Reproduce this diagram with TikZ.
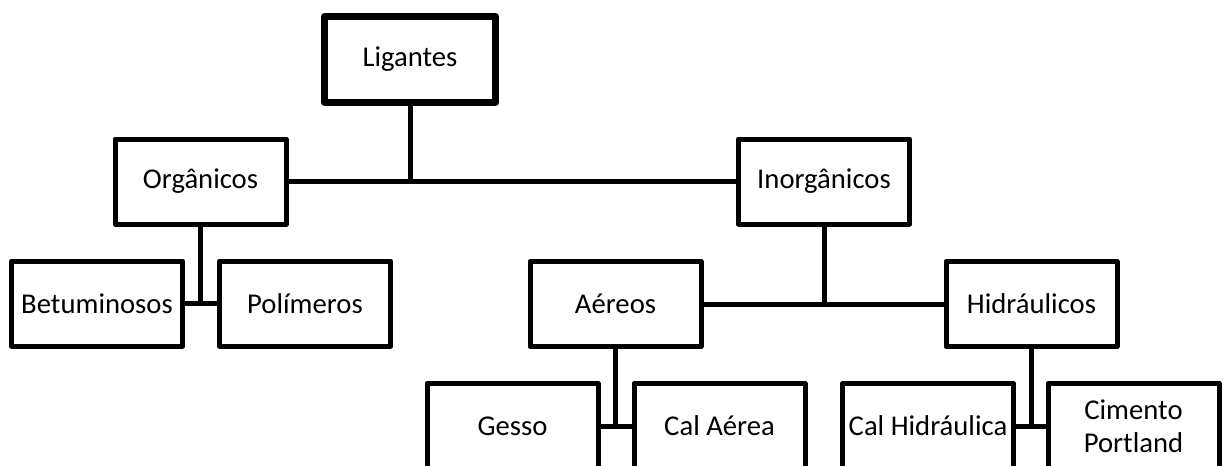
\documentclass[tikz,border=0pt]{standalone}
\usepackage{fontspec}
\setmainfont{Carlito}
\begin{document}
\begin{tikzpicture}[x=0.75pt,y=-0.75pt,
  box/.style={draw,line width=3.75pt,line join=round,minimum width=128.25pt,
    minimum height=63.75pt,inner sep=0pt,align=center,
    font=\fontsize{21.5}{24.75}\selectfont},
  rootbox/.style={box,line width=5.25pt,minimum height=64.5pt},
  link/.style={line width=3.75pt}]
\clip (0,0) rectangle (1224,465);
% tree of binders
\node[rootbox] (lig) at (410,59.5) {Ligantes};
\node[box] (org) at (200.5,181.5) {Orgânicos};
\node[box] (inorg) at (824,181.5) {Inorgânicos};
\node[box] (bet) at (97,303.5) {Betuminosos};
\node[box] (pol) at (305,303.5) {Polímeros};
\node[box] (aer) at (615.5,304) {Aéreos};
\node[box] (hid) at (1031.5,304) {Hidráulicos};
\node[box] (ges) at (512.5,426) {Gesso};
\node[box] (cala) at (719.5,426) {Cal Aérea};
\node[box] (calh) at (928,426) {Cal Hidráulica};
\node[box] (cim) at (1133.5,426) {Cimento\\Portland};
% connectors
\draw[link] (org.east) -- (inorg.west);
\draw[link] (lig.south) -- (lig.south |- org.east);
\draw[link] (bet.east) -- (pol.west);
\draw[link] (org.south) -- (org.south |- bet.east);
\draw[link] (aer.east) -- (hid.west);
\draw[link] (inorg.south) -- (inorg.south |- aer.east);
\draw[link] (ges.east) -- (cala.west);
\draw[link] (aer.south) -- (aer.south |- ges.east);
\draw[link] (calh.east) -- (cim.west);
\draw[link] (hid.south) -- (hid.south |- calh.east);
\end{tikzpicture}
\end{document}
